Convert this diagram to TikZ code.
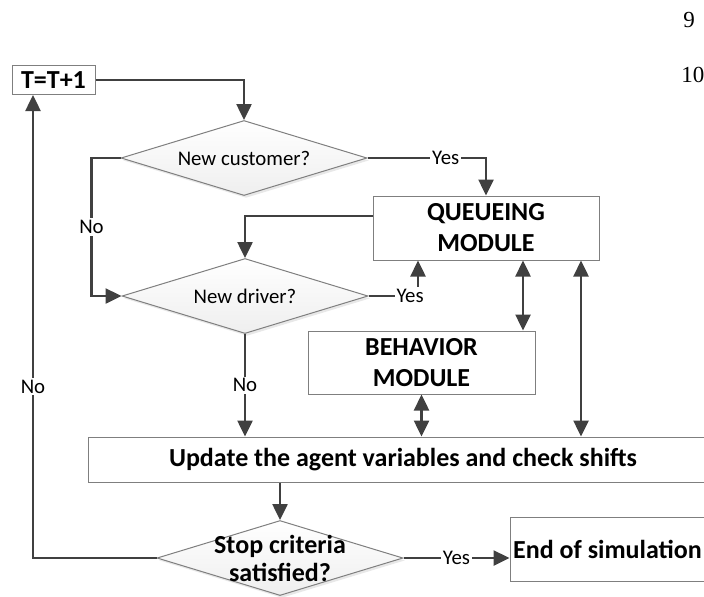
\documentclass[tikz,border=0pt]{standalone}
\usepackage{fontspec}
\setmainfont{Carlito}
\newfontfamily\linenofont{Liberation Serif}
\usetikzlibrary{arrows.meta,shapes.geometric,shadows,calc}

\definecolor{linec}{HTML}{404040}
\definecolor{edgec}{HTML}{7F7F7F}

\tikzset{
  flow/.style={draw=linec, line width=1.25pt, -{Triangle[length=8pt,width=7.5pt]}},
  dflow/.style={flow, {Triangle[length=8pt,width=7.5pt]}-{Triangle[length=8pt,width=7.5pt]}},
  procbox/.style={draw=edgec, line width=0.5pt, fill=white, align=center, inner sep=0pt,
    font=\fontsize{13}{15.5}\selectfont\bfseries},
  decision/.style={diamond, draw=edgec, line width=0.5pt, top color=white, bottom color=gray!13,
    inner sep=0pt, minimum width=123pt, minimum height=37.5pt,
    drop shadow={shadow xshift=1pt, shadow yshift=-1.2pt, opacity=0.18, fill=gray}},
  dtext/.style={font=\fontsize{10.4}{12.5}\selectfont},
  lbl/.style={fill=white, inner sep=1pt, font=\fontsize{10.4}{12.5}\selectfont}
}

\begin{document}
\begin{tikzpicture}[x=0.5pt, y=-0.5pt]
\useasboundingbox (0,0) rectangle (704,596);
\clip (0,0) rectangle (704,596);
% line numbers of the page
\node[anchor=west, inner sep=0pt, font=\linenofont\fontsize{11.5}{13}\selectfont] (ln9) at (683,20) {9};
\node[anchor=west, inner sep=0pt, font=\linenofont\fontsize{11.5}{13}\selectfont] (ln10) at (681,75) {10};
% process boxes
\node[procbox, minimum width=41.5pt, minimum height=14.5pt] (tt) at (53.5,80) {T=T+1};
\node[procbox, minimum width=113pt, minimum height=32pt] (qm) at (486,228) {QUEUEING\\MODULE};
\node[procbox, minimum width=113.5pt, minimum height=31.5pt] (bm) at (421.5,362.5) {BEHAVIOR\\MODULE};
\node[procbox, minimum width=315pt, minimum height=22.5pt] (up) at (403,459.5) {Update the agent variables and check shifts};
\node[procbox, minimum width=97.5pt, minimum height=32pt] (es) at (607.5,549) {End of simulation};
% decisions
\node[decision] (nc) at (244,158) {};
\node[dtext] (nctxt) at (nc) {New customer?};
\node[decision] (nd) at (245,296) {};
\node[dtext] (ndtxt) at (nd) {New driver?};
\node[decision] (sc) at (280,558) {};
\node[align=center, font=\fontsize{13}{14}\selectfont\bfseries] (sctxt) at (sc) {Stop criteria\\satisfied?};
% connectors
\draw[flow] (tt) -| (nc);
\draw[flow] (nc.west) -- ++(-29,0) |- node[lbl, pos=0.25] {No} (nd.west);
\draw[flow] (nc.east) -| node[lbl, pos=0.33] {Yes} (qm.north);
\draw[flow] ($(qm.west)+(0,-12)$) -| (nd.north);
\draw[flow] (nd.east) -| node[lbl, pos=0.42] {Yes} ([xshift=-34pt]qm.south);
\draw[dflow] ([xshift=18.5pt]qm.south) -- ([xshift=18.5pt]qm.south |- bm.north);
\draw[dflow] ([xshift=47.5pt]qm.south) -- ([xshift=47.5pt]qm.south |- up.north);
\draw[dflow] (bm.south) -- (bm.south |- up.north);
\draw[flow] (nd.south) -- node[lbl] {No} (nd.south |- up.north);
\draw[flow] (up.south -| sc.north) -- (sc.north);
\draw[flow] (sc.east) -- node[lbl] {Yes} (sc.east -| es.west);
\draw[flow] (sc.west) -| node[lbl, pos=0.685] {No} ([xshift=-10.25pt]tt.south);
\end{tikzpicture}
\end{document}
